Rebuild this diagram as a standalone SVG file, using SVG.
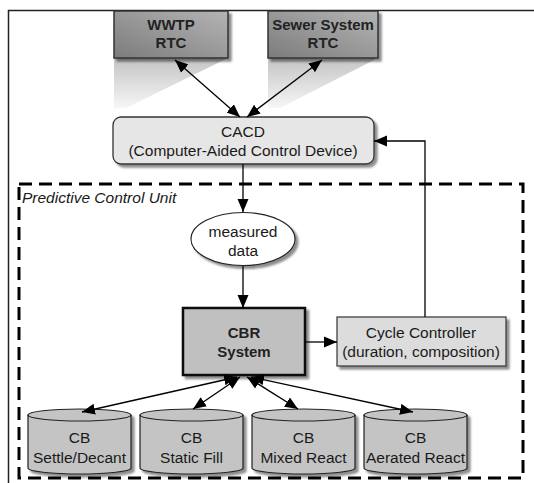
<svg xmlns="http://www.w3.org/2000/svg" width="534" height="483" viewBox="0 0 534 483">
<style>
text{font-family:"Liberation Sans",Arial,sans-serif;font-size:15.5px;fill:#1a1a1a;text-anchor:middle}
.b{font-weight:bold;font-size:15px;fill:#222}
.conn{stroke:#000;stroke-width:1.3;fill:none}
.arr2{marker-start:url(#ah);marker-end:url(#ah)}
.arr1{marker-end:url(#ah)}
.cyl{fill:#c4c4c4;stroke:#222;stroke-width:1.2}
</style>
<defs>
<marker id="ah" markerUnits="userSpaceOnUse" markerWidth="14" markerHeight="12" refX="13" refY="6" orient="auto-start-reverse">
<path d="M0,0.5 L13,6 L0,11.5 z" fill="#000"/>
</marker>
<filter id="sh" x="-10%" y="-10%" width="130%" height="140%">
<feGaussianBlur in="SourceAlpha" stdDeviation="1.2"/>
<feOffset dx="3" dy="3" result="o"/>
<feComponentTransfer><feFuncA type="linear" slope="0.45"/></feComponentTransfer>
<feMerge><feMergeNode/><feMergeNode in="SourceGraphic"/></feMerge>
</filter>
<linearGradient id="rtc" x1="0" y1="1" x2="1" y2="0">
<stop offset="0" stop-color="#7c7c7c"/>
<stop offset="1" stop-color="#b4b4b4"/>
</linearGradient>
<linearGradient id="cone" x1="0" y1="0" x2="0" y2="1">
<stop offset="0" stop-color="#c4c4c4"/>
<stop offset="1" stop-color="#f6f6f6"/>
</linearGradient>
</defs>
<rect width="534" height="483" fill="#fff"/>
<!-- outer frame -->
<path d="M8.5,483 V10.5 H534" fill="none" stroke="#222" stroke-width="1.5"/>
<!-- predictive control unit -->
<g id="pcu">
<rect x="19" y="184" width="504" height="294" fill="none" stroke="#000" stroke-width="3" stroke-dasharray="13,7"/>
<text x="22" y="203" style="text-anchor:start;font-style:italic">Predictive Control Unit</text>
</g>
<!-- light cones -->
<polygon points="114,58 228,58 126,108 114,108" fill="url(#cone)"/>
<polygon points="268,58 378,58 280,108 268,108" fill="url(#cone)"/>
<g id="wwtp">
<rect x="114" y="11" width="114" height="47" fill="url(#rtc)" stroke="#333" stroke-width="1.5" filter="url(#sh)"/>
<text class="b" x="171" y="30">WWTP</text>
<text class="b" x="171" y="48">RTC</text>
</g>
<g id="sewer">
<rect x="268" y="11" width="110" height="47" fill="url(#rtc)" stroke="#333" stroke-width="1.5" filter="url(#sh)"/>
<text class="b" x="323" y="30">Sewer System</text>
<text class="b" x="323" y="48">RTC</text>
</g>
<g id="cacd">
<rect x="113" y="117" width="261" height="47" rx="8" fill="#e6e6e6" stroke="#333" stroke-width="1.3" filter="url(#sh)"/>
<text x="243" y="137">CACD</text>
<text x="243" y="156">(Computer-Aided Control Device)</text>
</g>
<g id="measured">
<ellipse cx="243" cy="239" rx="52" ry="26.5" fill="#fff" stroke="#222" stroke-width="1.2" filter="url(#sh)"/>
<text x="243" y="237">measured</text>
<text x="243" y="256">data</text>
</g>
<g id="cbr">
<rect x="183" y="308" width="122" height="67" fill="#c0c0c0" stroke="#111" stroke-width="2.5" filter="url(#sh)"/>
<text class="b" x="244" y="338">CBR</text>
<text class="b" x="244" y="357">System</text>
</g>
<g id="cycle">
<rect x="337" y="317" width="169" height="49" fill="#dcdcdc" stroke="#333" stroke-width="1.2" filter="url(#sh)"/>
<text x="421" y="338">Cycle Controller</text>
<text x="421" y="357">(duration, composition)</text>
</g>
<g id="cb1">
<path class="cyl" d="M28,415 V468 A51.5,6 0 0 0 131,468 V415 A51.5,6 0 0 0 28,415 Z" filter="url(#sh)"/>
<path d="M28,415 A51.5,6 0 0 0 131,415" fill="none" stroke="#222" stroke-width="1.2"/>
<text x="79.5" y="443">CB</text>
<text x="79.5" y="463">Settle/Decant</text>
</g>
<g id="cb2">
<path class="cyl" d="M140,415 V468 A51.5,6 0 0 0 243,468 V415 A51.5,6 0 0 0 140,415 Z" filter="url(#sh)"/>
<path d="M140,415 A51.5,6 0 0 0 243,415" fill="none" stroke="#222" stroke-width="1.2"/>
<text x="191.5" y="443">CB</text>
<text x="191.5" y="463">Static Fill</text>
</g>
<g id="cb3">
<path class="cyl" d="M252,415 V468 A51.5,6 0 0 0 355,468 V415 A51.5,6 0 0 0 252,415 Z" filter="url(#sh)"/>
<path d="M252,415 A51.5,6 0 0 0 355,415" fill="none" stroke="#222" stroke-width="1.2"/>
<text x="303.5" y="443">CB</text>
<text x="303.5" y="463">Mixed React</text>
</g>
<g id="cb4">
<path class="cyl" d="M364,415 V468 A51.5,6 0 0 0 467,468 V415 A51.5,6 0 0 0 364,415 Z" filter="url(#sh)"/>
<path d="M364,415 A51.5,6 0 0 0 467,415" fill="none" stroke="#222" stroke-width="1.2"/>
<text x="415.5" y="443">CB</text>
<text x="415.5" y="463">Aerated React</text>
</g>
<g id="connectors">
<line class="conn arr2" x1="175" y1="60" x2="240" y2="117"/>
<line class="conn arr2" x1="322" y1="60" x2="247" y2="117"/>
<line class="conn arr1" x1="243" y1="164" x2="243" y2="212"/>
<line class="conn arr1" x1="243" y1="266" x2="243" y2="308"/>
<line class="conn arr1" x1="305" y1="342" x2="337" y2="342"/>
<polyline class="conn arr1" points="425,317 425,141 374,141"/>
<line class="conn arr2" x1="82" y1="412" x2="237" y2="377"/>
<line class="conn arr2" x1="193" y1="409" x2="240" y2="377"/>
<line class="conn arr2" x1="298" y1="409" x2="247" y2="377"/>
<line class="conn arr2" x1="413" y1="412" x2="251" y2="377"/>
</g>
</svg>
